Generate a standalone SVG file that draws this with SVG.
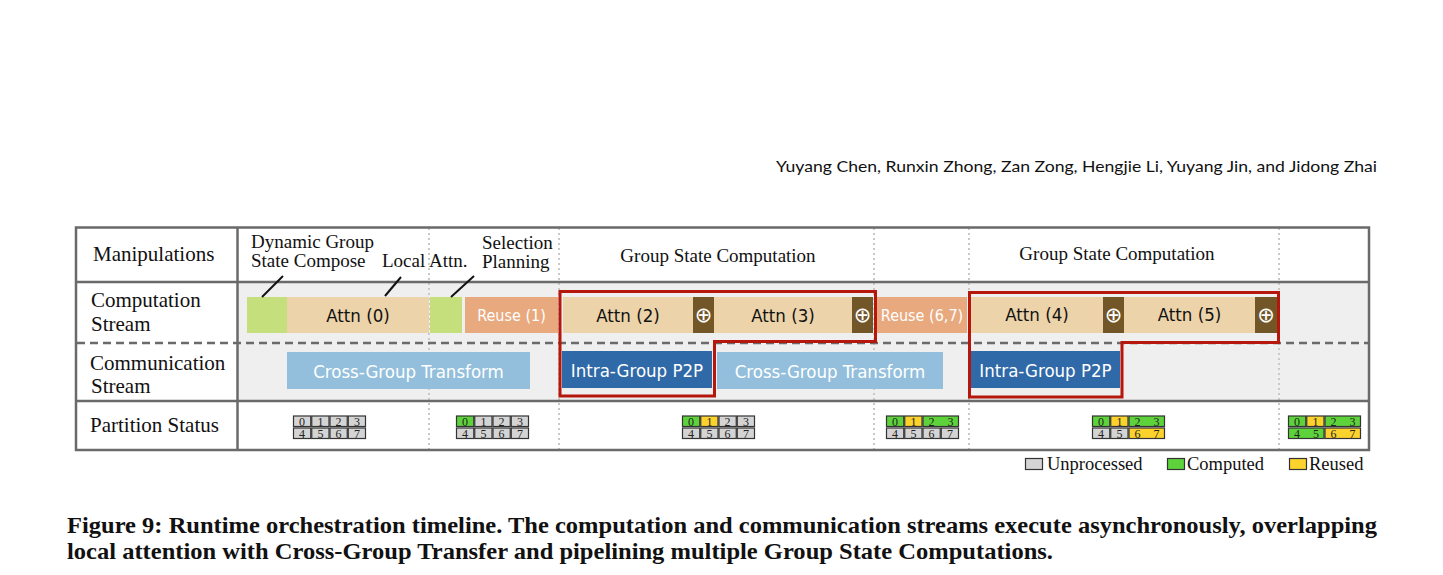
<svg xmlns="http://www.w3.org/2000/svg" width="1443" height="575" viewBox="0 0 1443 575">
<style>
.serif{font-family:"Liberation Serif","Times New Roman",serif;fill:#111}
.lbl{font-size:21px}
.man{font-size:19px}
.sans{font-family:"DejaVu Sans Condensed",Roboto,"DejaVu Sans",sans-serif;text-anchor:middle}
.big{font-size:18.5px}
.small{font-size:16px}
.dk{fill:#111}
.wt{fill:#fff}
.grn{fill:#c5df7c}
.tan{fill:#ecd3a9}
.org{fill:#e9a97e}
.brn{fill:#725628}
.lb{fill:#93bfdc}
.db{fill:#2f69a7}
.grid{stroke:#6a6a6a;stroke-width:2.5;fill:none}
.dot{stroke:#c9c9c9;stroke-width:2;stroke-dasharray:2 3;fill:none}
.red{stroke:#b5170c;stroke-width:3;fill:none}
.lead{stroke:#111;stroke-width:2;fill:none}
.c{stroke:#333;stroke-width:1.2}
.cu{fill:#d4d4d4}
.cc{fill:#5dd23b}
.cr{fill:#fcd22c}
.num{font-family:"Liberation Serif","Times New Roman",serif;font-size:12px;fill:#222;text-anchor:middle}
.plus{font-family:"DejaVu Sans",sans-serif;font-size:21px;fill:#fff;text-anchor:middle}
</style>
<rect width="1443" height="575" fill="#fff"/>
<text x="1377" y="172" font-family="Lato,'Liberation Sans',sans-serif" font-size="16" fill="#111" text-anchor="end" textLength="601" lengthAdjust="spacingAndGlyphs">Yuyang Chen, Runxin Zhong, Zan Zong, Hengjie Li, Yuyang Jin, and Jidong Zhai</text>

<g id="table">
<rect x="238" y="282" width="1130" height="119" fill="#efefef"/>
<line class="dot" x1="429" y1="228" x2="429" y2="449"/>
<line class="dot" x1="559" y1="228" x2="559" y2="449"/>
<line class="dot" x1="874" y1="228" x2="874" y2="449"/>
<line class="dot" x1="969" y1="228" x2="969" y2="449"/>
<line class="dot" x1="1279" y1="228" x2="1279" y2="449"/>
<line x1="77" y1="343" x2="1368" y2="343" stroke="#6a6a6a" stroke-width="2.5" stroke-dasharray="8 5"/>
<line class="grid" x1="76" y1="282" x2="1369" y2="282"/>
<line class="grid" x1="76" y1="401" x2="1369" y2="401"/>
<line class="grid" x1="237.5" y1="227" x2="237.5" y2="450"/>
<rect class="grid" x="76" y="227.5" width="1293" height="222.5"/>
<text class="serif lbl" x="93" y="261">Manipulations</text>
<text class="serif lbl" x="91" y="307">Computation</text>
<text class="serif lbl" x="91" y="331">Stream</text>
<text class="serif lbl" x="90" y="370">Communication</text>
<text class="serif lbl" x="91" y="393">Stream</text>
<text class="serif lbl" x="90" y="432">Partition Status</text>
</g>

<g id="manipulations">
<text class="serif man" x="251" y="248">Dynamic Group</text>
<text class="serif man" x="251" y="267">State Compose</text>
<text class="serif man" x="382" y="267">Local Attn.</text>
<text class="serif man" x="482" y="249">Selection</text>
<text class="serif man" x="482" y="268">Planning</text>
<text class="serif man" x="718" y="262" text-anchor="middle">Group State Computation</text>
<text class="serif man" x="1117" y="260" text-anchor="middle">Group State Computation</text>
</g>

<g id="compose1"><rect class="grn" x="247" y="297" width="40" height="36"/></g>
<g id="attn0"><rect class="tan" x="287" y="297" width="142" height="36"/><text class="sans big dk" x="358" y="321.5">Attn (0)</text></g>
<g id="compose2"><rect class="grn" x="430" y="297" width="32" height="36"/></g>
<g id="reuse1"><rect class="org" x="465" y="297" width="93" height="36"/><text class="sans small wt" x="511.5" y="321">Reuse (1)</text></g>
<g id="attn2"><rect class="tan" x="563" y="297" width="130" height="36"/><text class="sans big dk" x="628" y="321.5">Attn (2)</text></g>
<g id="add2"><rect class="brn" x="693" y="297" width="21" height="36"/><text class="plus" x="703.5" y="322">⊕</text></g>
<g id="attn3"><rect class="tan" x="714" y="297" width="138" height="36"/><text class="sans big dk" x="783" y="321.5">Attn (3)</text></g>
<g id="add3"><rect class="brn" x="852" y="297" width="21" height="36"/><text class="plus" x="862.5" y="322">⊕</text></g>
<g id="reuse67"><rect class="org" x="875" y="297" width="92" height="36"/><text class="sans small wt" x="922" y="321">Reuse (6,7)</text></g>
<g id="attn4"><rect class="tan" x="971" y="297" width="132" height="36"/><text class="sans big dk" x="1037" y="321">Attn (4)</text></g>
<g id="add4"><rect class="brn" x="1103" y="297" width="21" height="36"/><text class="plus" x="1113.5" y="322">⊕</text></g>
<g id="attn5"><rect class="tan" x="1124" y="297" width="131" height="36"/><text class="sans big dk" x="1189.5" y="321">Attn (5)</text></g>
<g id="add5"><rect class="brn" x="1255" y="297" width="22" height="36"/><text class="plus" x="1266" y="322">⊕</text></g>

<g id="cgt1"><rect class="lb" x="287" y="352" width="243" height="37"/><text class="sans big wt" x="408.5" y="377.5">Cross-Group Transform</text></g>
<g id="p2p1"><rect class="db" x="562" y="351" width="150" height="37"/><text class="sans big wt" x="637" y="376.5">Intra-Group P2P</text></g>
<g id="cgt2"><rect class="lb" x="717" y="352" width="226" height="37"/><text class="sans big wt" x="830" y="377.5">Cross-Group Transform</text></g>
<g id="p2p2"><rect class="db" x="971" y="351" width="149" height="37"/><text class="sans big wt" x="1045.5" y="376.5">Intra-Group P2P</text></g>

<g id="gsc1"><path class="red" d="M560 291.5 H875.5 V341.5 H714.5 V396 H560 Z"/></g>
<g id="gsc2"><path class="red" d="M969.5 292.5 H1278.5 V342.5 H1122 V397 H969.5 Z"/></g>

<g id="connectors">
<line class="lead" x1="283" y1="276" x2="262" y2="297"/>
<line class="lead" x1="401" y1="277" x2="385" y2="296"/>
<line class="lead" x1="474" y1="276" x2="451" y2="297"/>
</g>

<g id="ps1" transform="translate(293,0)">
<rect class="c cu" x="0.5" y="416" width="17.25" height="10.5"/><rect class="c cu" x="18.75" y="416" width="17.25" height="10.5"/><rect class="c cu" x="37" y="416" width="17.25" height="10.5"/><rect class="c cu" x="55.25" y="416" width="17.25" height="10.5"/>
<rect class="c cu" x="0.5" y="428" width="17.25" height="10.5"/><rect class="c cu" x="18.75" y="428" width="17.25" height="10.5"/><rect class="c cu" x="37" y="428" width="17.25" height="10.5"/><rect class="c cu" x="55.25" y="428" width="17.25" height="10.5"/>
<text class="num" x="9.1" y="425.5">0</text><text class="num" x="27.4" y="425.5">1</text><text class="num" x="45.6" y="425.5">2</text><text class="num" x="63.9" y="425.5">3</text>
<text class="num" x="9.1" y="437.5">4</text><text class="num" x="27.4" y="437.5">5</text><text class="num" x="45.6" y="437.5">6</text><text class="num" x="63.9" y="437.5">7</text>
</g>
<g id="ps2" transform="translate(456,0)">
<rect class="c cc" x="0.5" y="416" width="17.25" height="10.5"/><rect class="c cu" x="18.75" y="416" width="17.25" height="10.5"/><rect class="c cu" x="37" y="416" width="17.25" height="10.5"/><rect class="c cu" x="55.25" y="416" width="17.25" height="10.5"/>
<rect class="c cu" x="0.5" y="428" width="17.25" height="10.5"/><rect class="c cu" x="18.75" y="428" width="17.25" height="10.5"/><rect class="c cu" x="37" y="428" width="17.25" height="10.5"/><rect class="c cu" x="55.25" y="428" width="17.25" height="10.5"/>
<text class="num" x="9.1" y="425.5">0</text><text class="num" x="27.4" y="425.5">1</text><text class="num" x="45.6" y="425.5">2</text><text class="num" x="63.9" y="425.5">3</text>
<text class="num" x="9.1" y="437.5">4</text><text class="num" x="27.4" y="437.5">5</text><text class="num" x="45.6" y="437.5">6</text><text class="num" x="63.9" y="437.5">7</text>
</g>
<g id="ps3" transform="translate(682,0)">
<rect class="c cc" x="0.5" y="416" width="17.25" height="10.5"/><rect class="c cr" x="18.75" y="416" width="17.25" height="10.5"/><rect class="c cu" x="37" y="416" width="17.25" height="10.5"/><rect class="c cu" x="55.25" y="416" width="17.25" height="10.5"/>
<rect class="c cu" x="0.5" y="428" width="17.25" height="10.5"/><rect class="c cu" x="18.75" y="428" width="17.25" height="10.5"/><rect class="c cu" x="37" y="428" width="17.25" height="10.5"/><rect class="c cu" x="55.25" y="428" width="17.25" height="10.5"/>
<text class="num" x="9.1" y="425.5">0</text><text class="num" x="27.4" y="425.5">1</text><text class="num" x="45.6" y="425.5">2</text><text class="num" x="63.9" y="425.5">3</text>
<text class="num" x="9.1" y="437.5">4</text><text class="num" x="27.4" y="437.5">5</text><text class="num" x="45.6" y="437.5">6</text><text class="num" x="63.9" y="437.5">7</text>
</g>
<g id="ps4" transform="translate(886,0)">
<rect class="c cc" x="0.5" y="416" width="17.25" height="10.5"/><rect class="c cr" x="18.75" y="416" width="17.25" height="10.5"/><rect class="c cc" x="37" y="416" width="35.5" height="10.5"/>
<rect class="c cu" x="0.5" y="428" width="17.25" height="10.5"/><rect class="c cu" x="18.75" y="428" width="17.25" height="10.5"/><rect class="c cu" x="37" y="428" width="17.25" height="10.5"/><rect class="c cu" x="55.25" y="428" width="17.25" height="10.5"/>
<text class="num" x="9.1" y="425.5">0</text><text class="num" x="27.4" y="425.5">1</text><text class="num" x="45.6" y="425.5">2</text><text class="num" x="64.5" y="425.5">3</text>
<text class="num" x="9.1" y="437.5">4</text><text class="num" x="27.4" y="437.5">5</text><text class="num" x="45.6" y="437.5">6</text><text class="num" x="63.9" y="437.5">7</text>
</g>
<g id="ps5" transform="translate(1092,0)">
<rect class="c cc" x="0.5" y="416" width="17.25" height="10.5"/><rect class="c cr" x="18.75" y="416" width="17.25" height="10.5"/><rect class="c cc" x="37" y="416" width="35.5" height="10.5"/>
<rect class="c cu" x="0.5" y="428" width="17.25" height="10.5"/><rect class="c cu" x="18.75" y="428" width="17.25" height="10.5"/><rect class="c cr" x="37" y="428" width="35.5" height="10.5"/>
<text class="num" x="9.1" y="425.5">0</text><text class="num" x="27.4" y="425.5">1</text><text class="num" x="45.6" y="425.5">2</text><text class="num" x="64.5" y="425.5">3</text>
<text class="num" x="9.1" y="437.5">4</text><text class="num" x="27.4" y="437.5">5</text><text class="num" x="45.6" y="437.5">6</text><text class="num" x="64.5" y="437.5">7</text>
</g>
<g id="ps6" transform="translate(1288,0)">
<rect class="c cc" x="0.5" y="416" width="17.25" height="10.5"/><rect class="c cr" x="18.75" y="416" width="17.25" height="10.5"/><rect class="c cc" x="37" y="416" width="35.5" height="10.5"/>
<rect class="c cc" x="0.5" y="428" width="35.5" height="10.5"/><rect class="c cr" x="37" y="428" width="35.5" height="10.5"/>
<text class="num" x="9.1" y="425.5">0</text><text class="num" x="27.4" y="425.5">1</text><text class="num" x="45.6" y="425.5">2</text><text class="num" x="64.5" y="425.5">3</text>
<text class="num" x="9.1" y="437.5">4</text><text class="num" x="28" y="437.5">5</text><text class="num" x="45.6" y="437.5">6</text><text class="num" x="64.5" y="437.5">7</text>
</g>

<g id="legend">
<rect class="c cu" x="1025.5" y="458.5" width="17" height="11"/>
<text class="serif" x="1047" y="470" font-size="18.5">Unprocessed</text>
<rect class="c cc" x="1167.5" y="458.5" width="17" height="11"/>
<text class="serif" x="1187" y="470" font-size="18.5">Computed</text>
<rect class="c cr" x="1289.5" y="458.5" width="17" height="11"/>
<text class="serif" x="1309" y="470" font-size="18.5">Reused</text>
</g>

<g id="caption" font-family="'Liberation Serif','Times New Roman',serif" font-weight="bold" font-size="22.5" fill="#111">
<text x="67" y="533" textLength="1310" lengthAdjust="spacingAndGlyphs">Figure 9: Runtime orchestration timeline. The computation and communication streams execute asynchronously, overlapping</text>
<text x="67" y="559" textLength="986" lengthAdjust="spacingAndGlyphs">local attention with Cross-Group Transfer and pipelining multiple Group State Computations.</text>
</g>
</svg>
